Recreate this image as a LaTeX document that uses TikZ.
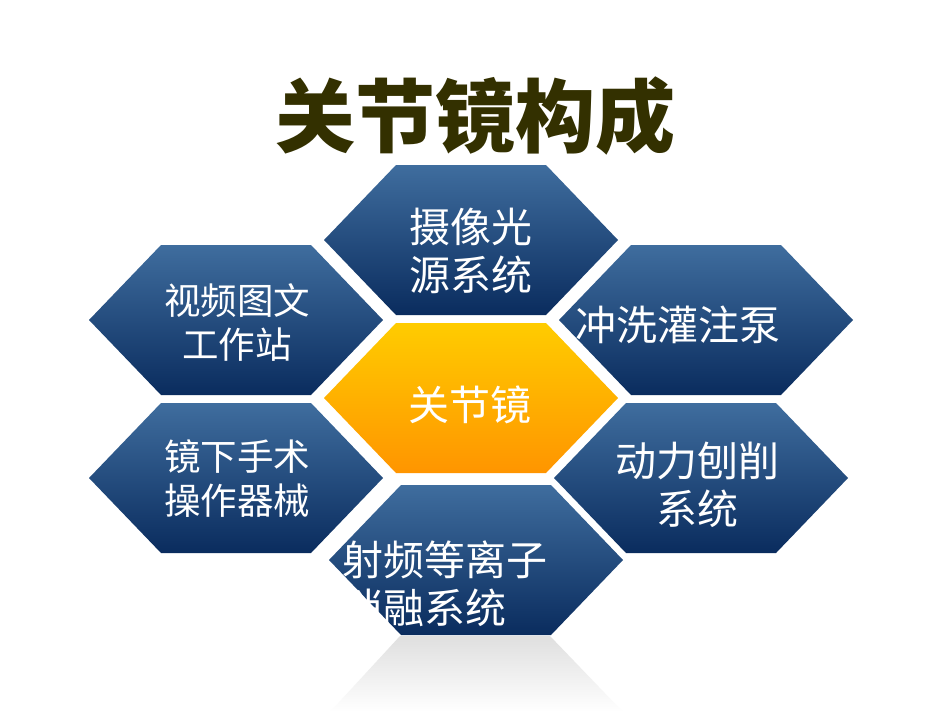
\documentclass[tikz,border=0pt]{standalone}
\usepackage{fontspec}
\newfontfamily\cjk{Noto Sans CJK SC}
\definecolor{titleolive}{HTML}{333000}
\definecolor{hexlight}{HTML}{3F6D9E}
\definecolor{hexdark}{HTML}{0A2C5E}
\definecolor{coretop}{HTML}{FFCC00}
\definecolor{corebot}{HTML}{FF9500}
\tikzset{
  bluehex/.style={top color=hexlight,bottom color=hexdark,draw=none},
  corehex/.style={top color=coretop,bottom color=corebot,draw=none},
  hexlabel/.style={text=white,align=center,inner sep=0pt,
    font=\cjk\fontsize{41}{48}\selectfont},
  smalllabel/.style={hexlabel,font=\cjk\fontsize{36.5}{44}\selectfont},
}
% hexagon centred at (#1,#2)
\newcommand{\hexpath}[3]{%
  \path[#3] (#1-\hw,#2) -- (#1-\hw+\off,#2-\hh) -- (#1+\hw-\off,#2-\hh)
    -- (#1+\hw,#2) -- (#1+\hw-\off,#2+\hh) -- (#1-\hw+\off,#2+\hh) -- cycle;}
\begin{document}
\begin{tikzpicture}[x=1pt,y=-1pt]
\pgfmathsetmacro{\hw}{147}
\pgfmathsetmacro{\hh}{75}
\pgfmathsetmacro{\off}{72}
\useasboundingbox[fill=white] (0,0) rectangle (950,713);
  \node[text=titleolive,font=\cjk\bfseries\fontsize{80}{80}\selectfont] (title) at (475,116) {关节镜构成};
  % reflection under the bottom cell
  \path[top color=gray!25,bottom color=white] (400,636) -- (550,636) -- (623,712) -- (330,712) -- cycle;
  \hexpath{471}{240}{bluehex}
  \hexpath{236}{320}{bluehex}
  \hexpath{706}{320}{bluehex}
  \hexpath{471}{398}{corehex}
  \hexpath{236}{478}{bluehex}
  \hexpath{701}{478}{bluehex}
  \hexpath{476}{560}{bluehex}
  \node[hexlabel] (camera) at (471,251) {摄像光\\源系统};
  \node[smalllabel] (video) at (237,322) {视频图文\\工作站};
  \node[hexlabel] (pump) at (678,325) {冲洗灌注泵};
  \node[hexlabel] (scope) at (470,405) {关节镜};
  \node[smalllabel] (tools) at (237,479) {镜下手术\\操作器械};
  \node[hexlabel] (shaver) at (697,485) {动力刨削\\系统};
  \node[hexlabel,align=left,anchor=west] (plasma) at (342,584) {射频等离子\\消融系统};
\end{tikzpicture}
\end{document}
